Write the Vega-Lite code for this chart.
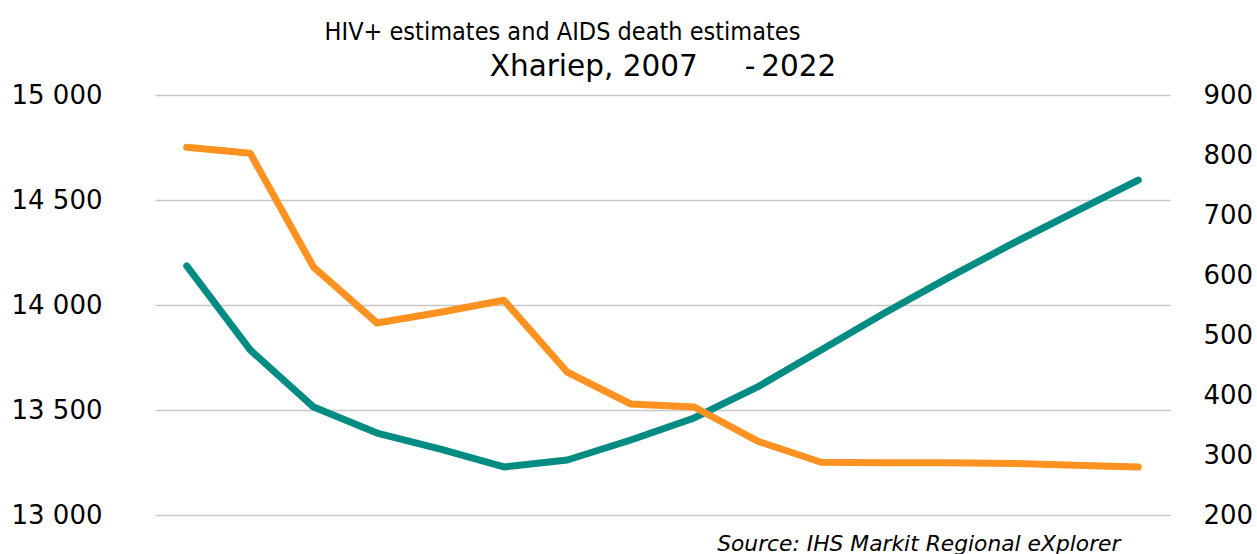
{
  "$schema": "https://vega.github.io/schema/vega-lite/v6.json",
  "autosize": {"type": "none"},
  "padding": {"left": 155, "top": 95, "right": 87, "bottom": 39},
  "width": 1015,
  "height": 420,
  "background": "white",
  "config": {"view": {"stroke": null}, "font": "DejaVu Sans"},
  "title": {
    "text": "HIV+ estimates and AIDS death estimates",
    "font": "DejaVu Sans Condensed",
    "fontSize": 25,
    "fontWeight": "normal",
    "color": "#000000",
    "anchor": "middle",
    "dx": -100,
    "offset": 6
  },
  "data": {
    "values": [
      {"year": "2007", "hiv": 14186, "deaths": 813},
      {"year": "2008", "hiv": 13786, "deaths": 803},
      {"year": "2009", "hiv": 13514, "deaths": 613},
      {"year": "2010", "hiv": 13390, "deaths": 520},
      {"year": "2011", "hiv": 13314, "deaths": 538},
      {"year": "2012", "hiv": 13229, "deaths": 558},
      {"year": "2013", "hiv": 13262, "deaths": 438},
      {"year": "2014", "hiv": 13357, "deaths": 385},
      {"year": "2015", "hiv": 13462, "deaths": 380},
      {"year": "2016", "hiv": 13610, "deaths": 323},
      {"year": "2017", "hiv": 13786, "deaths": 288},
      {"year": "2018", "hiv": 13962, "deaths": 287},
      {"year": "2019", "hiv": 14129, "deaths": 287},
      {"year": "2020", "hiv": 14290, "deaths": 286},
      {"year": "2021", "hiv": 14443, "deaths": 283},
      {"year": "2022", "hiv": 14595, "deaths": 280}
    ]
  },
  "layer": [
    {
      "mark": {"type": "line", "color": "#008c82", "strokeWidth": 7, "strokeCap": "round", "strokeJoin": "round"},
      "encoding": {
        "x": {
          "field": "year", "type": "ordinal",
          "scale": {"type": "point", "padding": 0.5},
          "axis": {
            "orient": "bottom", "labels": false, "ticks": false, "domain": false, "grid": false,
            "title": "Source: IHS Markit Regional eXplorer",
            "titleFont": "DejaVu Sans", "titleFontStyle": "italic", "titleFontWeight": "normal",
            "titleFontSize": 21.8, "titleColor": "#000000",
            "titleAnchor": "end", "titleX": 965, "titleY": 28, "titleAlign": "right", "titleBaseline": "middle"
          }
        },
        "y": {
          "field": "hiv", "type": "quantitative",
          "scale": {"domain": [13000, 15000], "nice": false, "zero": false},
          "axis": {
            "orient": "left", "values": [13000, 13500, 14000, 14500, 15000],
            "labelExpr": "replace(format(datum.value, ','), ',', ' ')",
            "labelFontSize": 26, "labelColor": "#000000", "labelPadding": 53,
            "ticks": false, "domain": false, "grid": true, "gridColor": "#c8c8c8", "gridWidth": 1.3,
            "title": null
          }
        }
      }
    },
    {
      "mark": {"type": "line", "color": "#ff9220", "strokeWidth": 7, "strokeCap": "round", "strokeJoin": "round"},
      "encoding": {
        "x": {
          "field": "year", "type": "ordinal",
          "scale": {"type": "point", "padding": 0.5},
          "axis": {
            "orient": "top", "labels": false, "ticks": false, "domain": false, "grid": false,
            "title": "Xhariep, 2007\u00a0\u00a0\u00a0\u00a0\u00a0-\u20092022",
            "titleFont": "DejaVu Sans", "titleFontWeight": "normal", "titleFontSize": 29.5, "titleColor": "#000000",
            "titlePadding": 14
          }
        },
        "y": {
          "field": "deaths", "type": "quantitative",
          "scale": {"domain": [200, 900], "nice": false, "zero": false},
          "axis": {
            "orient": "right", "values": [200, 300, 400, 500, 600, 700, 800, 900],
            "labelFontSize": 26, "labelColor": "#000000", "labelPadding": 33,
            "ticks": false, "domain": false, "grid": false, "title": null
          }
        }
      }
    }
  ],
  "resolve": {"scale": {"y": "independent"}, "axis": {"x": "independent"}}
}
